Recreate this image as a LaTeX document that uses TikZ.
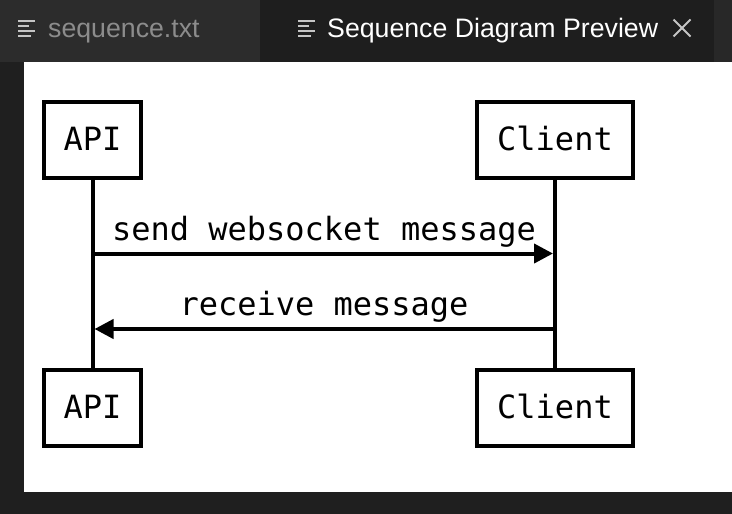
\documentclass[tikz,border=0pt]{standalone}
\usepackage{fontspec}
\setmainfont{Liberation Sans}
\newfontfamily\monofam{DejaVu Sans Mono}
\usetikzlibrary{arrows.meta}
\definecolor{tabbar}{HTML}{282828}
\definecolor{tabin}{HTML}{2C2C2C}
\definecolor{tabact}{HTML}{1E1E1E}
\definecolor{edbg}{HTML}{1F1F1F}
\definecolor{inact}{HTML}{8C8C8C}
\definecolor{iconc}{HTML}{C5C5C5}
\begin{document}
\begin{tikzpicture}[x=1pt,y=-1pt,
  actor/.style={draw=black, line width=4pt, fill=white, inner sep=0pt,
    minimum height=76pt, text height=24pt, text depth=4pt,
    font=\monofam\fontsize{32}{38}\selectfont},
  lifeline/.style={draw=black, line width=4pt},
  msg/.style={draw=black, line width=4pt, -{Triangle[length=19pt,width=19pt]}},
  lbl/.style={anchor=base, inner sep=0pt, font=\monofam\fontsize{32}{38}\selectfont},
  tabtxt/.style={anchor=base west, inner sep=0pt, font=\fontsize{26.7}{30}\selectfont},
  icon/.style={draw=iconc, line width=2pt},
]
\useasboundingbox (0,0) rectangle (732,514);
% window chrome
\fill[edbg] (0,0) rectangle (732,514);
\fill[tabbar] (0,0) rectangle (732,62);
\fill[tabin] (0,0) rectangle (260,62);
\fill[tabact] (260,0) rectangle (714,62);
\fill[white] (24,62) rectangle (732,492);
% tab icons
\draw[icon] (18,20.5) -- (35,20.5) (18,25.5) -- (29,25.5) (18,31) -- (35,31) (18,36) -- (31,36);
\draw[icon] (298,20.5) -- (315,20.5) (298,25.5) -- (309,25.5) (298,31) -- (315,31) (298,36) -- (311,36);
% tab texts
\node[tabtxt, text=inact] (tab1) at (48,37.5) {sequence.txt};
\node[tabtxt, text=white] (tab2) at (327,37.5) {Sequence Diagram Preview};
% close cross
\draw[draw=iconc, line width=1.8pt] (673.5,19.5) -- (690.5,36.5) (673.5,36.5) -- (690.5,19.5);
% participants
\node[actor, minimum width=97pt] (apiT) at (92.5,140) {API};
\node[actor, minimum width=156pt] (cliT) at (555,140) {Client};
\node[actor, minimum width=97pt] (apiB) at (92.5,408) {API};
\node[actor, minimum width=156pt] (cliB) at (555,408) {Client};
% lifelines
\draw[lifeline] (apiT.south) -- (apiB.north);
\draw[lifeline] (cliT.south) -- (cliB.north);
% messages
\coordinate (m1a) at (92.5,253.5);
\coordinate (m1b) at (553,253.5);
\coordinate (m2a) at (555,329);
\coordinate (m2b) at (94.5,329);
\draw[msg] (m1a) -- (m1b);
\draw[msg] (m2a) -- (m2b);
\node[lbl] (l1) at (324,240) {send websocket message};
\node[lbl] (l2) at (324,315) {receive message};
\end{tikzpicture}
\end{document}
